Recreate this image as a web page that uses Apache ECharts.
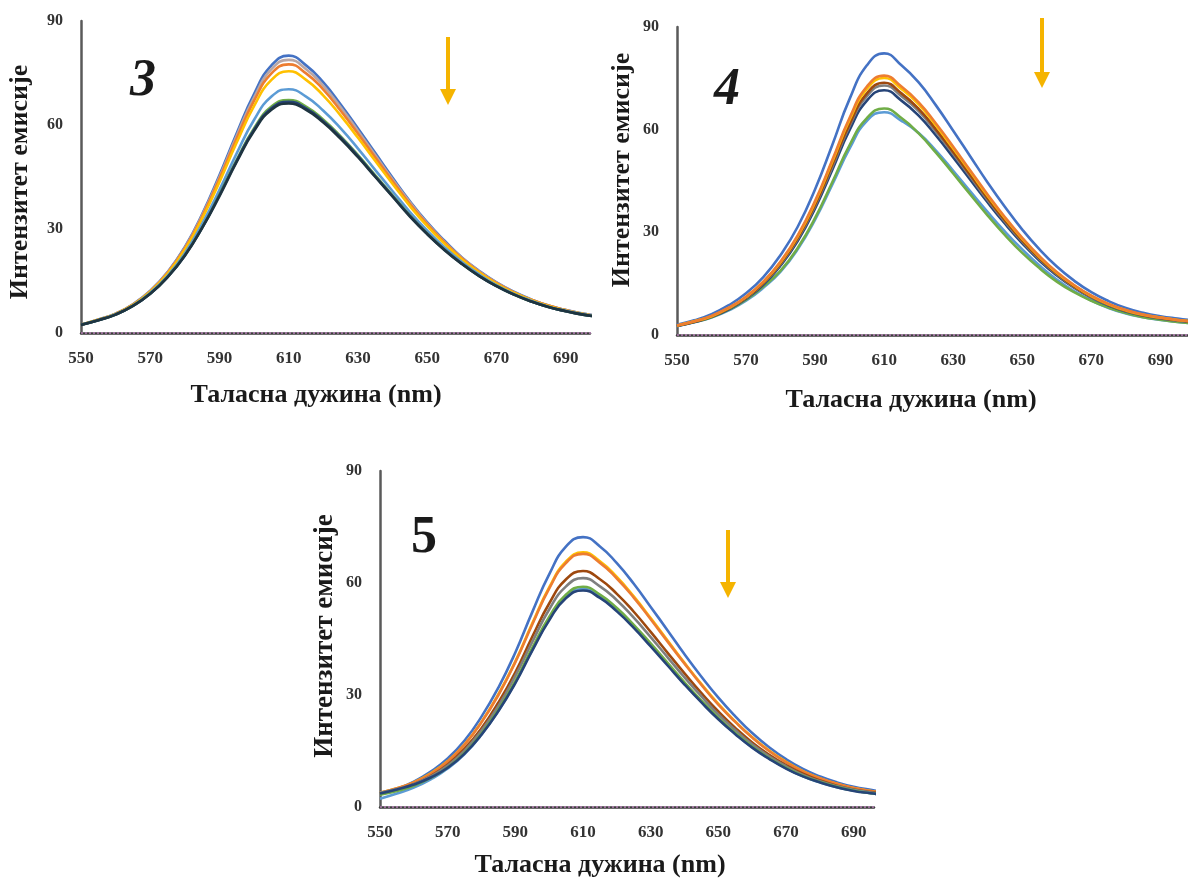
<!DOCTYPE html>
<html>
<head>
<meta charset="utf-8">
<script src="https://cdn.jsdelivr.net/npm/echarts@6/dist/echarts.min.js"></script>
<style>
html,body{margin:0;padding:0;background:#fff;}
#chart{width:1188px;height:882px;}
</style>
</head>
<body>
<div id="chart"></div>
<script>
// Wavelengths (nm), 5 nm steps
const wavelengths = [550,555,560,565,570,575,580,585,590,595,600,605,610,615,620,625,630,635,640,645,650,655,660,665,670,675,680,685,690,695,700];
const yTickValues = [0,30,60,90];
const xAxisTitle = 'Таласна дужина (nm)';
const yAxisTitle = 'Интензитет емисије';
const baseline = [0,0,0,0,0,0,0,0,0,0,0,0,0,0,0,0,0,0,0,0,0,0,0,0,0,0,0,0,0,0,0];

// Panel 3
const p3_blue      = [2.4,3.9,5.6,8.3,12.2,17.6,24.8,34.3,45.6,57.7,69.0,77.2,80.0,77.2,72.3,65.9,59.0,51.9,44.8,38.0,31.9,26.6,21.8,17.9,14.6,11.9,9.7,7.9,6.6,5.6,4.8];
const p3_gray      = [2.4,3.8,5.6,8.2,12.1,17.5,24.6,34.0,45.0,57.0,68.0,76.1,78.8,76.1,71.3,65.1,58.3,51.3,44.3,37.7,31.6,26.3,21.7,17.8,14.5,11.8,9.6,7.9,6.6,5.6,4.8];
const p3_orange    = [2.4,3.8,5.5,8.2,12.0,17.3,24.4,33.6,44.5,56.2,67.0,74.9,77.5,74.9,70.2,64.1,57.5,50.6,43.8,37.2,31.3,26.1,21.5,17.6,14.4,11.7,9.6,7.9,6.6,5.5,4.7];
const p3_yellow    = [2.4,3.8,5.5,8.1,11.9,17.1,24.0,33.0,43.6,55.0,65.5,73.0,75.5,73.0,68.5,62.7,56.3,49.6,43.0,36.6,30.8,25.7,21.2,17.4,14.2,11.6,9.5,7.8,6.5,5.5,4.7];
const p3_lightblue = [2.4,3.7,5.4,7.9,11.6,16.5,23.0,31.5,41.3,51.9,61.5,68.2,70.3,68.2,64.1,59.0,53.2,47.0,40.9,34.9,29.5,24.7,20.5,16.9,13.8,11.3,9.3,7.6,6.4,5.4,4.6];
const p3_green     = [2.4,3.7,5.3,7.8,11.4,16.2,22.5,30.5,40.0,50.0,59.1,65.3,67.2,65.3,61.5,56.7,51.3,45.5,39.7,33.9,28.7,24.1,20.0,16.5,13.6,11.1,9.1,7.5,6.3,5.3,4.6];
const p3_darkblue  = [2.4,3.7,5.3,7.8,11.3,16.1,22.4,30.4,39.8,49.7,58.7,64.8,66.7,64.8,61.1,56.4,51.0,45.2,39.5,33.8,28.6,24.0,20.0,16.5,13.5,11.1,9.1,7.5,6.3,5.3,4.6];
const p3_black     = [2.3,3.7,5.3,7.8,11.3,16.1,22.3,30.3,39.5,49.4,58.3,64.4,66.2,64.4,60.7,56.0,50.7,45.0,39.3,33.6,28.5,23.9,19.9,16.4,13.5,11.1,9.1,7.5,6.3,5.3,4.6];

// Panel 4
const p4_blue      = [3.0,4.3,6.1,8.7,12.2,16.9,23.4,31.7,42.6,55.6,69.0,78.8,82.3,78.8,73.8,67.1,59.7,52.1,44.5,37.4,30.8,25.0,20.0,15.9,12.5,9.9,7.9,6.5,5.5,4.8,4.2];
const p4_orange    = [2.8,4.0,5.6,8.0,11.2,15.6,21.5,29.2,39.2,51.2,63.5,72.6,75.8,72.6,68.0,61.8,55.0,48.0,41.0,34.4,28.4,23.0,18.4,14.6,11.5,9.1,7.3,6.0,5.1,4.4,3.9];
const p4_yellow    = [2.8,4.0,5.5,7.9,11.1,15.5,21.3,28.9,38.8,50.7,62.9,71.9,75.1,71.9,67.4,61.2,54.5,47.6,40.6,34.1,28.1,22.8,18.2,14.5,11.4,9.0,7.2,5.9,5.1,4.4,3.9];
const p4_brown     = [2.7,3.9,5.4,7.8,10.9,15.2,20.9,28.4,38.1,49.8,61.7,70.6,73.7,70.6,66.1,60.1,53.5,46.7,39.9,33.5,27.6,22.4,17.9,14.2,11.2,8.9,7.1,5.8,5.0,4.3,3.8];
const p4_gray      = [2.7,3.9,5.4,7.7,10.8,15.0,20.7,28.1,37.7,49.2,61.1,69.8,72.9,69.8,65.4,59.4,52.9,46.2,39.4,33.1,27.3,22.1,17.7,14.0,11.1,8.8,7.0,5.8,4.9,4.2,3.8];
const p4_darkblue  = [2.6,3.8,5.3,7.5,10.6,14.7,20.3,27.5,37.0,48.3,59.9,68.5,71.5,68.5,64.1,58.3,51.9,45.3,38.7,32.5,26.8,21.7,17.4,13.8,10.9,8.6,6.9,5.7,4.8,4.2,3.7];
const p4_green     = [2.7,3.8,5.2,7.4,10.3,14.2,18.8,25.5,34.2,44.7,55.5,63.4,66.2,63.4,58.9,53.3,47.2,41.0,34.9,29.2,24.0,19.5,15.6,12.5,10.0,8.0,6.4,5.2,4.5,3.8,3.4];
const p4_lightblue = [2.6,3.7,5.1,7.2,10.0,13.8,18.5,25.1,33.7,44.0,54.5,62.6,65.1,62.6,59.0,53.9,48.0,41.9,35.9,30.2,25.0,20.3,16.2,12.8,10.1,7.9,6.3,5.2,4.4,3.8,3.4];

// Panel 5
const p5_blue      = [3.6,4.9,6.8,9.5,13.0,17.8,24.2,32.0,41.4,52.2,62.3,69.8,72.3,69.8,65.3,59.8,53.6,47.3,40.9,34.9,29.3,24.3,19.8,16.0,12.8,10.2,8.2,6.6,5.4,4.6,3.9];
const p5_yellow    = [3.8,5.0,6.6,9.0,12.3,16.8,22.8,30.2,39.0,49.2,58.8,65.8,68.2,65.8,61.6,56.4,50.6,44.6,38.6,32.9,27.6,22.9,18.7,15.1,12.1,9.6,7.7,6.2,5.1,4.3,3.7];
const p5_orange    = [3.8,5.0,6.6,8.9,12.2,16.7,22.7,30.0,38.8,48.9,58.5,65.4,67.8,65.4,61.2,56.1,50.3,44.3,38.4,32.7,27.4,22.8,18.6,15.0,12.0,9.5,7.7,6.2,5.1,4.3,3.7];
const p5_brown     = [3.5,4.6,6.1,8.3,11.4,15.6,21.1,28.0,36.1,45.6,54.5,61.0,63.2,61.0,57.1,52.3,46.9,41.3,35.8,30.5,25.6,21.2,17.3,14.0,11.2,8.9,7.1,5.7,4.7,4.0,3.4];
const p5_gray      = [3.8,4.8,6.1,8.2,11.1,15.1,20.5,27.1,35.1,44.2,52.9,59.1,61.3,59.1,55.4,50.7,45.5,40.1,34.7,29.6,24.8,20.6,16.8,13.6,10.9,8.6,6.9,5.6,4.6,3.9,3.3];
const p5_green     = [3.3,4.3,5.7,7.8,10.6,14.5,19.7,26.1,33.7,42.6,50.9,56.9,59.0,56.9,53.3,48.8,43.8,38.6,33.4,28.5,23.9,19.8,16.2,13.1,10.5,8.3,6.7,5.4,4.4,3.7,3.2];
const p5_darkblue  = [3.6,4.7,6.0,7.9,10.5,14.3,19.4,25.7,33.2,41.9,50.0,56.0,58.0,56.0,52.4,48.0,43.0,37.9,32.8,28.0,23.5,19.5,15.9,12.9,10.3,8.2,6.6,5.3,4.3,3.7,3.2];
const p5_lightblue = [2.2,3.6,5.2,7.4,10.3,14.2,19.4,25.8,33.4,42.1,50.3,56.3,58.4,56.3,52.7,48.3,43.3,38.2,33.0,28.2,23.7,19.6,16.0,13.0,10.4,8.2,6.6,5.3,4.4,3.7,3.2];

const C = {
  blue:'#4472C4', gray:'#B8A6A6', orange:'#ED7D31', yellow:'#FFC000', lightblue:'#5B9BD5',
  green:'#70AD47', darkblue:'#264478', black:'#1E3440', brown:'#9E480E', dgray:'#7F7F7F'
};

const panels = [
  { grid:{left:81, top:21, width:509, height:312}, xmax:697,
    series:[[p3_blue,C.blue],[p3_gray,C.gray],[p3_orange,C.orange],[p3_yellow,C.yellow],
            [p3_lightblue,C.lightblue],[p3_green,C.green],[p3_darkblue,C.darkblue],[p3_black,C.black]] },
  { grid:{left:677, top:27, width:511, height:308}, xmax:698,
    series:[[p4_blue,C.blue],[p4_lightblue,C.lightblue],[p4_green,C.green],[p4_darkblue,C.darkblue],
            [p4_gray,C.dgray],[p4_brown,C.brown],[p4_yellow,C.yellow],[p4_orange,C.orange]] },
  { grid:{left:380, top:471, width:494, height:336}, xmax:696,
    series:[[p5_blue,C.blue],[p5_yellow,C.yellow],[p5_orange,C.orange],[p5_brown,C.brown],
            [p5_gray,C.dgray],[p5_lightblue,C.lightblue],[p5_green,C.green],[p5_darkblue,C.darkblue]] }
];

const font = '"Liberation Serif", "Times New Roman", serif';
const grids = [], xAxes = [], yAxes = [], series = [];
panels.forEach((p, i) => {
  grids.push(p.grid);
  xAxes.push({
    type:'value', gridIndex:i, min:550, max:p.xmax, interval:20,
    axisLine:{show:true, lineStyle:{color:'#3c3c3c', width:2.5}},
    axisTick:{show:false}, splitLine:{show:false},
    axisLabel:{showMaxLabel:false, margin:17, color:'#333', fontFamily:font, fontWeight:'bold', fontSize:17}
  });
  yAxes.push({
    type:'value', gridIndex:i, min:yTickValues[0], max:yTickValues[yTickValues.length-1], interval:30,
    axisLine:{show:true, lineStyle:{color:'#5a5a5a', width:2.5}},
    axisTick:{show:false}, splitLine:{show:false},
    axisLabel:{margin:18, color:'#333', fontFamily:font, fontWeight:'bold', fontSize:16}
  });
  p.series.forEach(([vals, color]) => {
    series.push({
      type:'line', xAxisIndex:i, yAxisIndex:i, smooth:0.5, showSymbol:false, clip:true,
      data: wavelengths.map((w, k) => [w, vals[k]]),
      lineStyle:{color:color, width:2.6}, emphasis:{disabled:true}
    });
  });
  series.push({
    type:'line', xAxisIndex:i, yAxisIndex:i, showSymbol:false, clip:false,
    data: wavelengths.map((w, k) => [w, baseline[k]]),
    lineStyle:{color:'#b57fb5', width:1.6, type:[2,2]}, emphasis:{disabled:true}
  });
});

function txt(text, x, y, size, opts) {
  return Object.assign({
    type:'text', x:x, y:y,
    style:{text:text, font:(opts && opts.style ? opts.style + ' ' : '') + 'bold ' + size + 'px ' + font,
           fill:'#1a1a1a', align:'center', verticalAlign:'middle'}
  }, opts && opts.rotation ? {rotation:opts.rotation} : {});
}
function arrow(x, y1, y2) {
  return [
    {type:'line', shape:{x1:x, y1:y1, x2:x, y2:y2-14}, style:{stroke:'#F5B400', lineWidth:4}},
    {type:'polygon', shape:{points:[[x-8, y2-16],[x+8, y2-16],[x, y2]]}, style:{fill:'#F5B400'}}
  ];
}

const graphic = [
  txt(xAxisTitle, 316, 395, 26),
  txt(xAxisTitle, 911, 400, 26),
  txt(xAxisTitle, 600, 865, 26),
  txt(yAxisTitle, 20, 182, 26, {rotation:Math.PI/2}),
  txt(yAxisTitle, 622, 170, 26, {rotation:Math.PI/2}),
  txt(yAxisTitle, 325, 636, 27, {rotation:Math.PI/2}),
  txt('3', 143, 82, 52, {style:'italic'}),
  txt('4', 727, 91, 52, {style:'italic'}),
  txt('5', 424, 539, 52)
].concat(arrow(448, 37, 105), arrow(1042, 18, 88), arrow(728, 530, 598));

const chart = echarts.init(document.getElementById('chart'), null, {renderer:'canvas'});
chart.setOption({
  backgroundColor:'#ffffff',
  animation:false,
  grid:grids, xAxis:xAxes, yAxis:yAxes, series:series, graphic:graphic
});
</script>
</body>
</html>
